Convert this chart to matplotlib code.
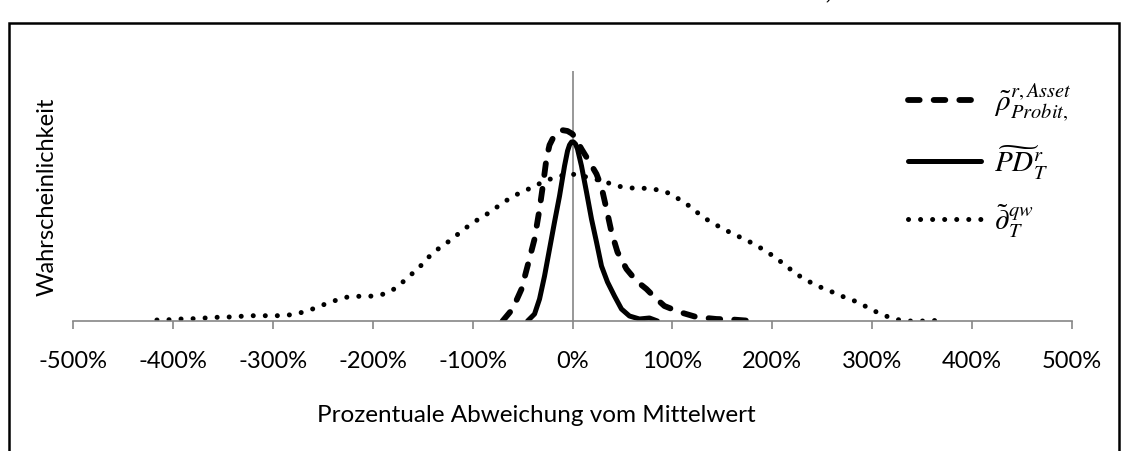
import matplotlib

matplotlib.use("Agg")
import matplotlib.pyplot as plt
from matplotlib.patches import Rectangle

plt.rcParams["font.family"] = ["Lato", "DejaVu Sans"]
plt.rcParams["mathtext.fontset"] = "stix"

# x: percent deviation from mean, y: probability (arbitrary units)
rho_x = [-70, -60, -51, -45, -38, -33, -29, -26, -23, -19, -15, -11, -5, 0, 4, 9,
         17, 24, 29, 34, 39, 45, 54, 64, 74, 82, 92, 107, 124, 144, 160, 180]
rho_y = [0, 12, 32, 55, 82, 112, 140, 163, 176, 184, 188, 191, 190, 187, 181, 172,
         159, 147, 134, 112, 89, 69, 52, 40, 32, 24, 15, 9, 4, 2, 1.5, 0]

pd_x = [-45, -38, -33, -28, -23, -18, -13, -8, -5, -3, -1, 1, 3, 5, 9, 14, 19,
        24, 29, 35, 42, 49, 57, 67, 77, 85]
pd_y = [0, 7, 22, 45, 72, 99, 125, 155, 170, 176, 179, 179, 177, 172, 155, 129,
        102, 79, 55, 39, 25, 12, 5, 2, 3, 0]

qw_x = [-416, -404, -392, -380, -368, -356, -344, -332, -320, -308, -296, -284,
        -273, -261, -250, -239, -227, -215, -203, -191, -180, -171, -162, -153,
        -145, -136, -126, -117, -107, -97, -87, -77, -67, -57, -46, -36, -25,
        -13, -1, 10, 22, 33, 45, 56, 68, 80, 92, 103, 113, 123, 132, 142, 153,
        163, 174, 185, 195, 205, 214, 224, 234, 245, 256, 266, 278, 289, 300,
        311, 322, 334, 345, 357, 369]
qw_y = [1, 1.3, 2, 2.3, 3, 3.7, 4, 4.7, 5.3, 5.3, 5.3, 6, 8, 11.7, 16, 20,
        23.7, 24.7, 24.7, 26.3, 31, 38, 46, 54, 63, 71, 78, 85, 93, 100, 106,
        113, 120, 126, 131, 136, 141, 145, 147, 145, 142, 139, 135, 133, 133,
        132, 130, 124, 118, 110, 103, 97, 91, 86, 81, 75, 69, 62, 55, 47, 41,
        35, 31, 26, 22, 17, 11, 6, 2, 0, 0, 0, 1]

x_ticks = [-500, -400, -300, -200, -100, 0, 100, 200, 300, 400, 500]
labels = [
    r"$\tilde{\rho}^{r,Asset}_{Probit,}$",
    r"$\widetilde{PD}^{r}_{T}$",
    r"$\tilde{\partial}^{qw}_{T}$",
]

fig = plt.figure(figsize=(11.25, 4.52), dpi=100)
ax = fig.add_axes([0.0649, 0.2876, 0.888, 0.5531])

ax.plot(rho_x, rho_y, color="black", lw=4.2, linestyle=(0, (2.0, 2.4)),
        dash_capstyle="round", dash_joinstyle="round", label=labels[0])
ax.plot(pd_x, pd_y, color="black", lw=3.6, solid_capstyle="round",
        solid_joinstyle="round", label=labels[1])
ax.plot(qw_x, qw_y, color="black", lw=3.6, linestyle=(0, (0.01, 2.4)),
        dash_capstyle="round", label=labels[2])

ax.set_xlim(-500, 500)
ax.set_ylim(0, 250)
ax.set_xticks(x_ticks)
ax.set_xticklabels([f"{t}%" for t in x_ticks])
ax.set_yticks([])
for s in ["top", "right", "left"]:
    ax.spines[s].set_visible(False)
ax.spines["bottom"].set_color("#868686")
ax.spines["bottom"].set_linewidth(1.2)
ax.axvline(0, color="#868686", lw=1.2, zorder=0)
ax.tick_params(axis="x", direction="out", length=6, width=1.2, color="#868686",
               labelsize=17, pad=15)

leg = ax.legend(loc="upper left", bbox_to_anchor=(0.797, 0.845),
                bbox_transform=fig.transFigure, frameon=False, fontsize=21,
                handlelength=2.5, handletextpad=0.45, labelspacing=0.7,
                borderaxespad=0)

fig.text(0.477, 0.080, "Prozentuale Abweichung vom Mittelwert", fontsize=17.5,
         ha="center", va="center")
fig.text(0.042, 0.565, "Wahrscheinlichkeit", fontsize=17, rotation=90,
         ha="center", va="center")

# clipped caption line above the frame
fig.text(0.685, 1.012, "Probit,T", fontsize=13, family="DejaVu Serif",
         style="italic", ha="left", va="center")

fig.add_artist(Rectangle((0.008, -0.1), 0.9867, 1.047, transform=fig.transFigure,
                         fill=False, edgecolor="black", lw=1.8))

fig.savefig("out.png", dpi=100)
